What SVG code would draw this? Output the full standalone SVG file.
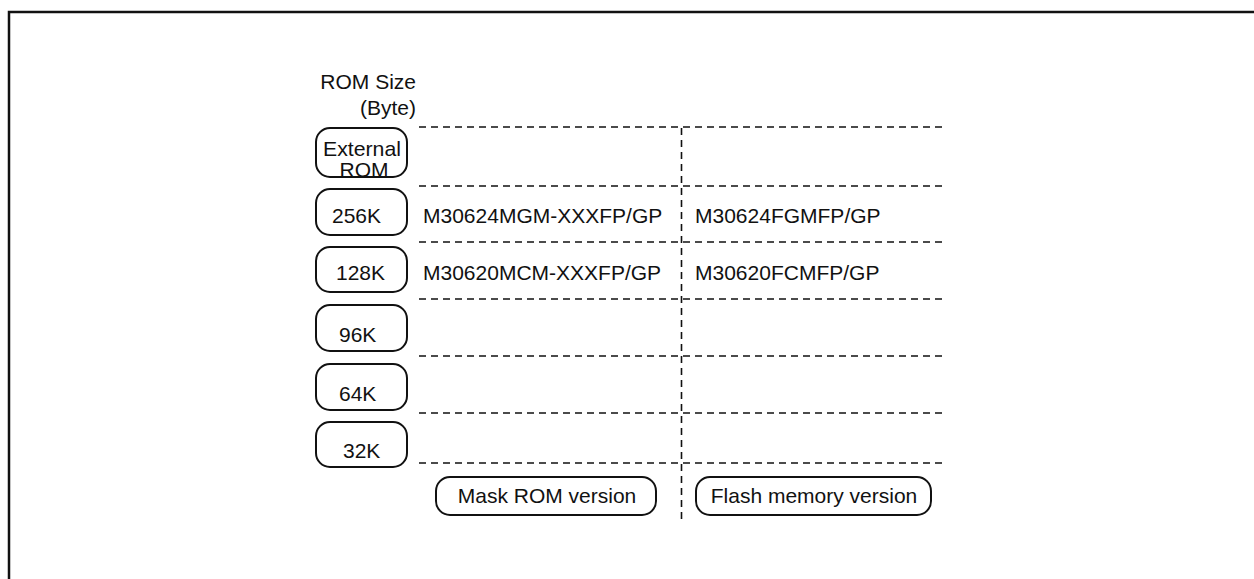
<svg xmlns="http://www.w3.org/2000/svg" width="1254" height="579" viewBox="0 0 1254 579">
<style>
.t{font-family:"Liberation Sans",Arial,sans-serif;font-size:21px;fill:#111}
.box{fill:none;stroke:#111;stroke-width:2}
.dash{stroke:#111;stroke-width:1.6;stroke-dasharray:7,5;fill:none}
</style>
<rect width="1254" height="579" fill="#fff"/>
<path d="M9,579 V12 H1254" fill="none" stroke="#111" stroke-width="2.5"/>
<g id="header">
<text class="t" x="416" y="89" text-anchor="end">ROM Size</text>
<text class="t" x="416" y="115" text-anchor="end">(Byte)</text>
</g>
<g id="connectors">
<line class="dash" x1="419" y1="127" x2="947" y2="127"/>
<line class="dash" x1="419" y1="186" x2="947" y2="186"/>
<line class="dash" x1="419" y1="242" x2="947" y2="242"/>
<line class="dash" x1="419" y1="299" x2="947" y2="299"/>
<line class="dash" x1="419" y1="356" x2="947" y2="356"/>
<line class="dash" x1="419" y1="413" x2="947" y2="413"/>
<line class="dash" x1="419" y1="463" x2="947" y2="463"/>
<line class="dash" x1="681.5" y1="128" x2="681.5" y2="520"/>
</g>
<g id="n-external">
<rect class="box" x="316" y="128" width="91" height="49" rx="14"/>
<text class="t" x="362" y="156" text-anchor="middle" textLength="78" lengthAdjust="spacingAndGlyphs">External</text>
<text class="t" x="364" y="177" text-anchor="middle">ROM</text>
</g>
<g id="n-256k">
<rect class="box" x="316" y="189" width="91" height="46" rx="14"/>
<text class="t" x="332" y="223">256K</text>
</g>
<g id="n-128k">
<rect class="box" x="316" y="247" width="91" height="45" rx="14"/>
<text class="t" x="336" y="280">128K</text>
</g>
<g id="n-96k">
<rect class="box" x="316" y="305" width="91" height="46" rx="14"/>
<text class="t" x="339" y="342">96K</text>
</g>
<g id="n-64k">
<rect class="box" x="316" y="364" width="91" height="46" rx="14"/>
<text class="t" x="339" y="401">64K</text>
</g>
<g id="n-32k">
<rect class="box" x="316" y="422" width="91" height="45" rx="14"/>
<text class="t" x="343" y="458">32K</text>
</g>
<g id="cells">
<text class="t" x="423" y="223">M30624MGM-XXXFP/GP</text>
<text class="t" x="695" y="223">M30624FGMFP/GP</text>
<text class="t" x="423" y="280">M30620MCM-XXXFP/GP</text>
<text class="t" x="695" y="280">M30620FCMFP/GP</text>
</g>
<g id="n-mask">
<rect class="box" x="436" y="477" width="220" height="38" rx="14"/>
<text class="t" x="547" y="503" text-anchor="middle">Mask ROM version</text>
</g>
<g id="n-flash">
<rect class="box" x="696" y="477" width="235" height="38" rx="14"/>
<text class="t" x="814" y="503" text-anchor="middle">Flash memory version</text>
</g>
</svg>
